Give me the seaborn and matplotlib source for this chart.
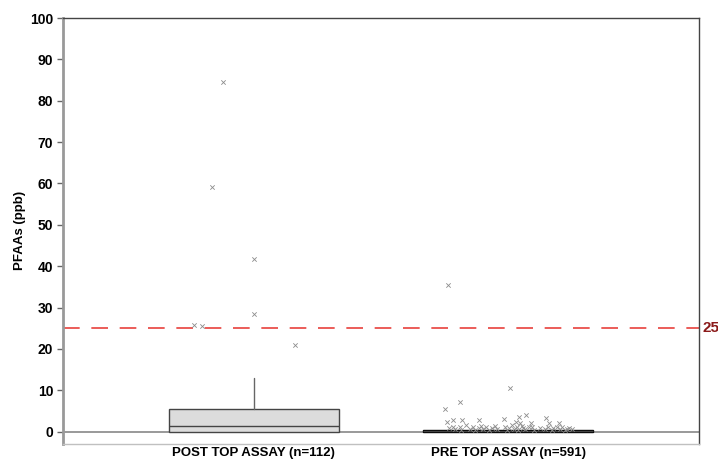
import numpy as np
import pandas as pd
import matplotlib
matplotlib.use("Agg")
import matplotlib.pyplot as plt
import seaborn as sns

# Groups and box summaries (ppb)
categories = ["POST TOP ASSAY (n=112)", "PRE TOP ASSAY (n=591)"]
box_q1 = [0.0, 0.0]
box_median = [1.45, 0.1]
box_q3 = [5.4, 0.3]
whisker_low = [0.0, 0.0]
whisker_high = [13.0, 0.4]

# Outlier values per group, with their horizontal jitter (category units)
post_values = [84.5, 59.1, 41.7, 28.5, 25.8, 25.5, 21.0]
post_jitter = [-0.122, -0.165, 0.0, 0.0, -0.236, -0.204, 0.161]

pre_values = [35.5, 10.6, 7.1, 5.4, 2.3, 2.8, 2.9, 2.8, 3.1, 3.5, 3.9, 2.2, 2.0,
              2.1, 3.2, 2.0, 2.0,
              0.8, 1.2, 0.6, 1.0, 0.5, 1.5, 0.7, 1.1, 0.5, 0.9, 1.3, 0.6, 1.0,
              0.5, 0.8, 1.4, 0.6, 1.2, 0.5, 0.9, 1.6, 0.7, 1.1, 0.5, 1.3, 0.8,
              0.6, 1.0, 1.2, 0.5, 0.9, 0.7, 1.1, 0.5, 0.8, 1.0, 0.6, 1.2, 0.5,
              0.7, 0.9, 0.6]
pre_jitter = [-0.235, 0.008, -0.188, -0.247, -0.239, -0.216, -0.180, -0.114,
              -0.016, 0.043, 0.071, 0.031, 0.047, 0.090, 0.149, 0.161, 0.200,
              -0.234, -0.217, -0.208, -0.191, -0.185, -0.165, -0.149, -0.138,
              -0.129, -0.116, -0.106, -0.099, -0.086, -0.076, -0.064, -0.051,
              -0.044, -0.012, -0.005, 0.005, 0.015, 0.024, 0.034, 0.040, 0.054,
              0.060, 0.067, 0.080, 0.093, 0.102, 0.125, 0.145, 0.158, 0.171,
              0.178, 0.191, 0.204, 0.211, 0.224, 0.231, 0.240, 0.250]

threshold = 25
y_ticks = list(range(0, 101, 10))

sns.set_style("white")
plt.rcParams["font.family"] = ["Liberation Sans", "DejaVu Sans"]
plt.rcParams["font.weight"] = "bold"
plt.rcParams["text.color"] = "black"
plt.rcParams["axes.labelcolor"] = "black"
plt.rcParams["xtick.labelcolor"] = "black"
plt.rcParams["ytick.labelcolor"] = "black"

fig = plt.figure(figsize=(7.18, 4.65), dpi=100)
ax = fig.add_axes([63 / 718, 1 - 444 / 465, (699 - 63) / 718, (444 - 18) / 465])

# Box plots from summary statistics
stats = []
for i, name in enumerate(categories):
    stats.append(dict(label=name, q1=box_q1[i], med=box_median[i], q3=box_q3[i],
                      whislo=whisker_low[i], whishi=whisker_high[i], fliers=[]))
ax.bxp(stats, positions=[0, 1], widths=0.667, patch_artist=True, showfliers=False,
       showcaps=False,
       boxprops=dict(facecolor="#dcdcdc", edgecolor="#444444", linewidth=1.0),
       medianprops=dict(color="#444444", linewidth=1.0),
       whiskerprops=dict(color="#666666", linewidth=1.0), zorder=3)
# the pre-assay box collapses to a thick dark line at zero
for p in ax.patches[1:]:
    p.set_edgecolor("black")
    p.set_facecolor("black")

# Outlier markers
pts = pd.DataFrame({
    "x": [0 + j for j in post_jitter] + [1 + j for j in pre_jitter],
    "value": post_values + pre_values,
})
sns.scatterplot(data=pts, x="x", y="value", marker="x", color="#8c8c8c",
                s=10, linewidth=0.6, ax=ax, zorder=4, legend=False)

# Zero line and threshold
ax.axhline(0, color="#888888", linewidth=1.2, zorder=2)
ax.axhline(threshold, color="#e8413c", linewidth=1.2, dashes=(10, 7), zorder=2)
ax.text(1.005, threshold, str(threshold), transform=ax.get_yaxis_transform(),
        color="#8b1a1a", fontsize=11, fontweight="bold", va="center", ha="left")

ax.set_xlim(-0.75, 1.75)
ax.set_ylim(-3.0, 100)
ax.set_yticks(y_ticks)
ax.set_yticklabels([str(t) for t in y_ticks], fontsize=10, fontweight="bold")
ax.set_xticks([0, 1])
ax.set_xticklabels(categories, fontsize=9.5, fontweight="bold")
ax.tick_params(axis="x", length=0, pad=2, labelcolor="black")
ax.tick_params(axis="y", length=4, width=1, color="#666666", pad=3, left=True,
               labelcolor="black")
ax.set_xlabel("")
ax.set_ylabel("PFAAs (ppb)", fontsize=9.5, fontweight="bold", color="black")
ax.yaxis.set_label_coords((26 - 63) / 636, (444 - 230) / 426)

ax.spines["left"].set_color("#999999")
ax.spines["left"].set_linewidth(2)
ax.spines["bottom"].set_color("#c0c0c0")
ax.spines["bottom"].set_linewidth(1)
ax.spines["top"].set_color("#444444")
ax.spines["right"].set_color("#444444")
ax.spines["top"].set_linewidth(1)
ax.spines["right"].set_linewidth(1)

fig.savefig("out.png", dpi=100, facecolor="white")
